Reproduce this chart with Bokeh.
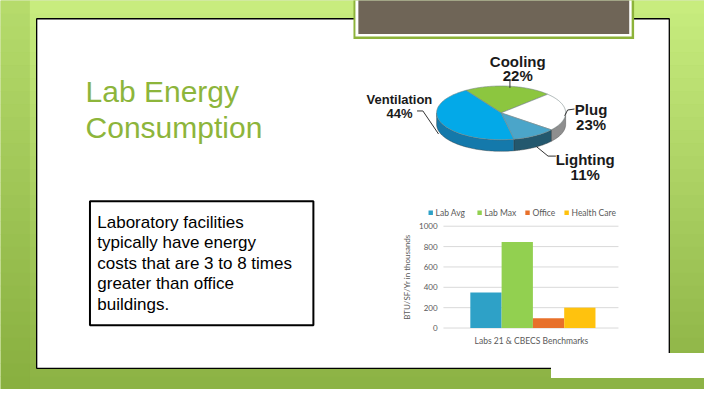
import numpy as np
from bokeh.plotting import figure
from bokeh.models import Range1d
from bokeh.core.properties import value
from bokeh.embed import file_html
from bokeh.resources import INLINE

# ---------------- data ----------------
title_lines = ["Lab Energy", "Consumption"]
body_lines = ["Laboratory facilities", "typically have energy",
              "costs that are 3 to 8 times", "greater than office", "buildings."]

pie_labels = ["Cooling", "Plug", "Lighting", "Ventilation"]
pie_pcts = [22, 23, 11, 44]
pie_colors = ["#8cc63f", "#ffffff", "#4ba5c9", "#03a9e8"]
pie_side_colors = ["#6d9a30", "#8e8e8e", "#23586e", "#1479ab"]

bar_cats = ["Lab Avg", "Lab Max", "Office", "Health Care"]
bar_vals = [350, 845, 95, 200]
bar_colors = ["#2ea1c7", "#92d050", "#e8702a", "#ffc20e"]
bar_ticks = [0, 200, 400, 600, 800, 1000]
bar_xlabel = "Labs 21 & CBECS Benchmarks"
bar_ylabel = "BTU/SF/Yr in thousands"

# ---------------- figure (data coords = reference pixels) ----------------
W, H = 704, 389
SW, SH = 720, 405
p = figure(width=W, height=H, x_range=Range1d(0, SW), y_range=Range1d(SH, 0),
           output_backend="svg", toolbar_location=None, min_border=0,
           x_axis_location=None, y_axis_location=None)
p.grid.visible = False
p.outline_line_color = None
p.background_fill_color = "#a9d25a"
p.border_fill_color = "#ffffff"

SANS = value("Liberation Sans")

# background gradient bands
top_c = np.array([0xc8, 0xec, 0x7e], dtype=float)
bot_c = np.array([0x8c, 0xb3, 0x45], dtype=float)
n = 30
edges = np.linspace(0, SH, n + 1)
cols = []
for i in range(n):
    f = i / (n - 1)
    c = top_c * (1 - f) + bot_c * f
    cols.append("#%02x%02x%02x" % tuple(int(v) for v in c))
p.quad(left=0, right=SW, top=edges[:-1], bottom=edges[1:] + 0.5, fill_color=cols, line_color=None)
# darker left strip
p.quad(left=0, right=30, top=0, bottom=SH, fill_color="#7fa832", fill_alpha=0.25, line_color=None)

# white panel
p.quad(left=37, right=684, top=19, bottom=383, fill_color="white", line_color="black", line_width=1.3)

# brown header box
p.quad(left=361, right=648, top=-2, bottom=40, fill_color="#8db33a", line_color=None)
p.quad(left=363, right=645.5, top=-2, bottom=37.5, fill_color="white", line_color=None)
p.quad(left=366, right=643, top=-2, bottom=35, fill_color="#6f6557", line_color=None)

# bottom-right white rectangle
p.quad(left=563, right=SW, top=367, bottom=393, fill_color="white", line_color=None)

# title
for i, t in enumerate(title_lines):
    p.text(x=[87], y=[95 + i * 37], text=[t], text_font=SANS, text_font_size="30px",
           text_color="#8db53b", text_baseline="alphabetic", text_align="left")

# body text box
p.quad(left=91.5, right=320, top=209, bottom=338, fill_color="white", line_color="black", line_width=2)
for i, t in enumerate(body_lines):
    p.text(x=[99], y=[231 + i * 21.3], text=[t], text_font=SANS, text_font_size="17px",
           text_color="black", text_baseline="alphabetic", text_align="left")

# ---------------- 3D pie ----------------
cx, cy, rx, ry, dep = 512, 117, 66, 28, 12
start = 123.0
bounds = [start]
for v in pie_pcts:
    bounds.append(bounds[-1] - v / 100 * 360)


def arc(t0, t1, n=60, dy=0.0):
    ts = np.radians(np.linspace(t0, t1, n))
    return cx + rx * np.cos(ts), cy - ry * np.sin(ts) + dy

# sides (front only)
for i in range(len(pie_pcts)):
    hi, lo = bounds[i], bounds[i + 1]
    for f0, f1 in [(-180, 0), (180, 360), (-540, -360)]:
        a = min(hi, f1)
        b = max(lo, f0)
        if a > b:
            xs1, ys1 = arc(a, b)
            xs2, ys2 = arc(b, a, dy=dep)
            p.patch(np.concatenate([xs1, xs2]), np.concatenate([ys1, ys2]),
                    fill_color=pie_side_colors[i], line_color="#3a3a3a", line_width=0.4)

# top faces
for i in range(len(pie_pcts)):
    xs, ys = arc(bounds[i], bounds[i + 1])
    p.patch(np.concatenate([[cx], xs]), np.concatenate([[cy], ys]),
            fill_color=pie_colors[i], line_color="#7a8a8a", line_width=0.6)

# labels & leaders
lab = dict(text_font=SANS, text_font_style="bold", text_color="#1a1a1a",
           text_align="center", text_baseline="alphabetic")
p.text(x=[529, 529], y=[63, 78], text=[pie_labels[0], f"{pie_pcts[0]}%"], text_font_size="15px", **lab)
p.text(x=[604, 604], y=[113, 129], text=[pie_labels[1], f"{pie_pcts[1]}%"], text_font_size="15px", **lab)
p.text(x=[598, 598], y=[166, 181], text=[pie_labels[2], f"{pie_pcts[2]}%"], text_font_size="15px", **lab)
p.text(x=[408, 408], y=[103, 118], text=[pie_labels[3], f"{pie_pcts[3]}%"], text_font_size="13px", **lab)
p.line([521, 521], [82, 91], line_color="#333333", line_width=1)
p.line([426, 432, 448], [115, 115, 139], line_color="#333333", line_width=1)
p.line([587, 580, 577], [113, 114, 120], line_color="#333333", line_width=1)
p.line([548, 560, 568], [152, 162, 162], line_color="#333333", line_width=1)

# ---------------- bar chart (own extra ranges) ----------------
BY0, BYT = 341.0, 235.0          # reference y of 0 and of the top tick
ppu = (BY0 - BYT) / bar_ticks[-1]
ys0 = 0 - (SH - BY0) / ppu
p.extra_y_ranges = {"bar": Range1d(ys0, ys0 + SH / ppu)}
BX0, BSTEP = 496.5, 32.0
xs0 = 0 - BX0 / BSTEP
p.extra_x_ranges = {"bx": Range1d(xs0, xs0 + SW / BSTEP)}

LATO = value("Lato")
p.segment(x0=453, x1=632, y0=bar_ticks, y1=bar_ticks, y_range_name="bar",
          line_color="#d9d9d9", line_width=1)
idx = list(range(len(bar_vals)))
p.vbar(x=idx, top=bar_vals, bottom=0, width=1.0, fill_color=bar_colors, line_color=None,
       x_range_name="bx", y_range_name="bar")
p.text(x=[447] * len(bar_ticks), y=bar_ticks, text=[str(t) for t in bar_ticks],
       y_range_name="bar", text_font=LATO, text_font_size="8px", text_color="#595959",
       text_align="right", text_baseline="middle")
p.text(x=[416], y=[288], text=[bar_ylabel], angle=np.pi / 2, text_font=LATO,
       text_font_size="8px", text_color="#595959", text_align="center", text_baseline="middle")
p.text(x=[543], y=[354], text=[bar_xlabel], text_font=LATO, text_font_size="8.5px",
       text_color="#595959", text_align="center", text_baseline="middle")
leg_sq_x = [440, 490, 539, 579]
p.rect(x=leg_sq_x, y=[221] * 4, width=4.5, height=4.5, fill_color=bar_colors, line_color=None)
p.text(x=[x + 5 for x in leg_sq_x], y=[221] * 4, text=bar_cats, text_font=LATO,
       text_font_size="8.5px", text_color="#595959", text_align="left", text_baseline="middle")

open("out.html", "w").write(file_html(p, INLINE))
